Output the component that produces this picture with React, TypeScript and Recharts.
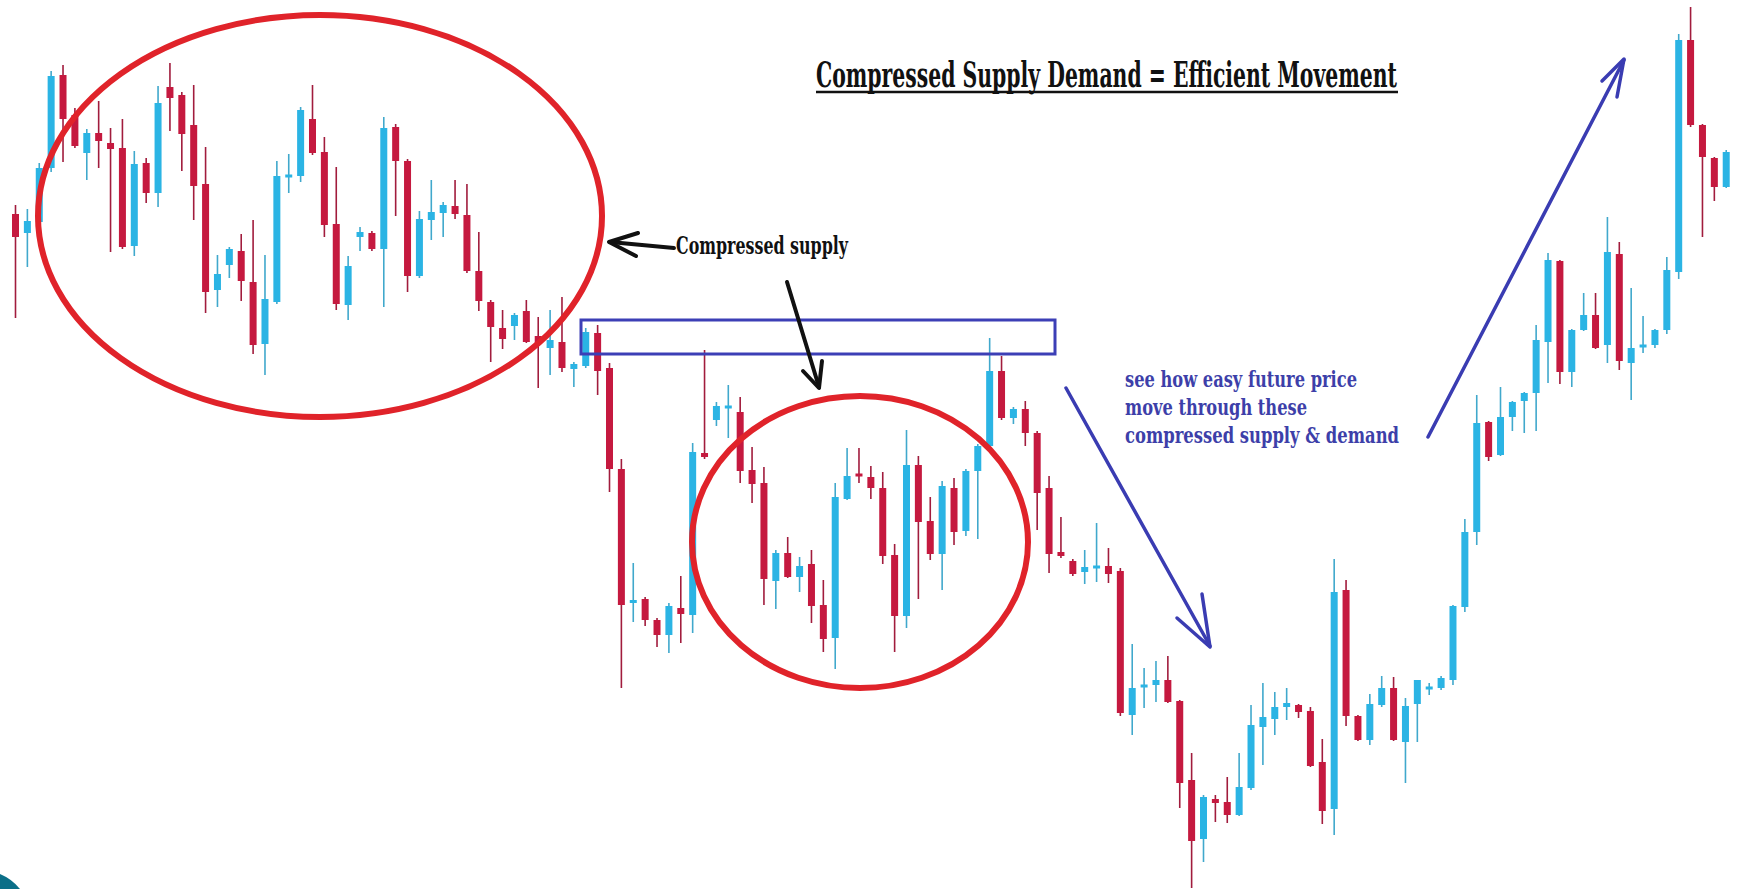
import React from 'react';
import { ComposedChart, Bar, XAxis, YAxis } from 'recharts';

// Price units (arbitrary points), one entry per candle
const openP = [
  675, 656, 667, 721, 814, 774, 736, 756, 746, 741, 643, 726, 696, 802, 794, 764, 705, 599, 624, 638,
  607, 545, 587, 712, 713, 770, 737, 665, 584, 652, 656, 640, 762, 728, 613, 669, 676, 683, 674, 618,
  587, 561, 563, 578, 553, 541, 547, 520, 523, 556, 521, 420, 286, 290, 269, 254, 281, 274, 436, 469,
  481, 477, 419, 406, 308, 336, 312, 325, 284, 251, 390, 415, 412, 401, 334, 273, 424, 368, 335, 401,
  358, 418, 443, 518, 471, 480, 456, 401, 337, 328, 317, 321, 323, 318, 174, 202, 204, 209, 188, 109,
  50, 90, 87, 74, 101, 162, 170, 182, 184, 178, 127, 80, 299, 173, 149, 184, 201, 147, 185, 200,
  201, 209, 282, 357, 467, 434, 472, 488, 496, 547, 628, 517, 559, 574, 544, 635, 526, 542, 544, 559,
  617, 849, 764, 731, 702,
];
const highP = [
  684, 680, 726, 818, 824, 781, 760, 788, 761, 770, 738, 731, 803, 826, 797, 804, 742, 634, 642, 655,
  669, 634, 728, 735, 782, 804, 752, 722, 633, 662, 658, 772, 765, 730, 678, 709, 687, 709, 705, 657,
  589, 579, 576, 589, 572, 579, 592, 527, 561, 564, 526, 430, 326, 292, 271, 286, 313, 446, 539, 487,
  504, 492, 442, 422, 339, 352, 332, 339, 309, 406, 441, 441, 423, 417, 345, 459, 433, 392, 408, 411,
  420, 445, 551, 533, 482, 488, 458, 413, 372, 330, 339, 366, 341, 321, 245, 221, 228, 233, 189, 136,
  94, 94, 112, 136, 184, 206, 197, 201, 185, 182, 150, 330, 309, 174, 195, 213, 212, 191, 209, 206,
  213, 284, 370, 494, 468, 502, 488, 497, 564, 636, 629, 560, 596, 596, 672, 647, 601, 573, 560, 632,
  855, 882, 765, 732, 739,
];
const lowP = [
  571, 622, 663, 717, 727, 741, 709, 721, 637, 640, 633, 686, 682, 758, 718, 669, 576, 582, 611, 588,
  535, 514, 585, 696, 707, 734, 652, 579, 569, 638, 638, 582, 673, 597, 611, 649, 652, 670, 616, 578,
  527, 540, 549, 546, 501, 514, 517, 502, 521, 494, 397, 201, 267, 263, 242, 236, 246, 256, 430, 463,
  451, 406, 386, 284, 280, 311, 297, 266, 237, 220, 389, 406, 390, 325, 237, 261, 290, 329, 299, 344,
  353, 350, 442, 469, 465, 443, 359, 316, 331, 313, 305, 307, 306, 173, 154, 181, 187, 186, 81, 1,
  27, 67, 66, 73, 99, 124, 154, 169, 171, 122, 65, 54, 163, 148, 144, 182, 148, 106, 147, 194,
  199, 204, 277, 344, 428, 433, 458, 456, 458, 506, 505, 502, 558, 540, 526, 519, 489, 536, 541, 555,
  610, 762, 652, 688, 701,
];
const closeP = [
  652, 668, 721, 813, 770, 743, 756, 748, 740, 642, 725, 696, 786, 791, 755, 703, 597, 615, 640, 608,
  544, 590, 713, 714, 779, 736, 664, 585, 623, 657, 640, 761, 728, 613, 670, 677, 684, 675, 618, 588,
  562, 550, 574, 547, 546, 549, 521, 525, 557, 518, 420, 284, 289, 269, 254, 283, 275, 437, 432, 483,
  483, 418, 405, 310, 336, 312, 323, 283, 250, 392, 413, 413, 401, 333, 273, 424, 367, 335, 403, 357,
  418, 443, 518, 471, 480, 456, 396, 335, 333, 315, 322, 323, 315, 176, 201, 204, 209, 187, 106, 48,
  92, 86, 74, 102, 164, 172, 182, 186, 177, 123, 78, 297, 173, 149, 185, 201, 149, 183, 209, 202,
  211, 283, 357, 466, 432, 472, 487, 496, 549, 629, 517, 559, 574, 541, 637, 528, 541, 544, 559, 619,
  849, 764, 732, 702, 737,
];

const titleText = 'Compressed Supply Demand = Efficient Movement';
const supplyLabel = 'Compressed supply';
const noteLines = ['see how easy future price', 'move through these', 'compressed supply & demand'];

const data = openP.map((o, i) => ({
  i,
  open: o,
  high: highP[i],
  low: lowP[i],
  close: closeP[i],
  range: [lowP[i], highP[i]],
}));

const UP = '#2bb4e4';
const DOWN = '#c5193f';
const UP_WICK = '#40a8cc';
const DOWN_WICK = '#a11c3d';

function Candle(props: any) {
  const { x, y, width, height, payload } = props;
  if (!payload || height == null) return null;
  const { open, close, high, low } = payload;
  const up = close >= open;
  const k = height / (high - low);
  const yOf = (v: number) => y + (high - v) * k;
  const cx = x + width / 2;
  const top = yOf(Math.max(open, close));
  const bot = yOf(Math.min(open, close));
  const h = Math.max(bot - top, 3);
  return (
    <g>
      <line x1={cx} x2={cx} y1={y} y2={y + height} stroke={up ? UP_WICK : DOWN_WICK} strokeWidth={1.6} />
      <rect x={x} y={top - (h - (bot - top)) / 2} width={width} height={h} fill={up ? UP : DOWN} />
    </g>
  );
}

const serif = "'DejaVu Serif Condensed', 'DejaVu Serif', 'Liberation Serif', serif";

export default function App() {
  return (
    <div style={{ position: 'absolute', left: 0, top: 0, width: 1741, height: 889, background: '#ffffff', overflow: 'hidden' }}>
      <ComposedChart
        width={1741}
        height={889}
        data={data}
        margin={{ top: 0, right: 8.4, bottom: 0, left: 10 }}
        barCategoryGap={0}
      >
        <XAxis dataKey="i" type="category" hide />
        <YAxis type="number" domain={[0, 889]} hide allowDataOverflow />
        <Bar dataKey="range" barSize={7} shape={(p: any) => <Candle {...p} />} isAnimationActive={false} />
      </ComposedChart>
      <svg width={1741} height={889} style={{ position: 'absolute', left: 0, top: 0, pointerEvents: 'none' }}>
        {/* red ellipses */}
        <ellipse cx={320} cy={216} rx={282} ry={201} fill="none" stroke="#e0232a" strokeWidth={6} />
        <ellipse cx={860} cy={542} rx={168} ry={146} fill="none" stroke="#e0232a" strokeWidth={6} />
        {/* blue box */}
        <rect x={581} y={320} width={474} height={34} fill="none" stroke="#3c3fb6" strokeWidth={3} />
        {/* title */}
        <text x={816} y={87} fontFamily={serif} fontWeight="bold" fontSize={36} fill="#111" textLength={581} lengthAdjust="spacingAndGlyphs">
          {titleText}
        </text>
        <line x1={816} x2={1398} y1={92} y2={92} stroke="#111" strokeWidth={2.5} />
        {/* compressed supply label + arrows */}
        <text x={676} y={254} fontFamily={serif} fontWeight="bold" fontSize={24} fill="#111" textLength={172} lengthAdjust="spacingAndGlyphs">
          {supplyLabel}
        </text>
        <g stroke="#111" strokeWidth={4} fill="none" strokeLinecap="round" strokeLinejoin="round">
          <line x1={674} y1={248} x2={610} y2={242} />
          <polyline points="638,233 609,242 636,256" />
          <line x1={787} y1={282} x2={819} y2={387} />
          <polyline points="803,371 819,388 822,361" />
        </g>
        {/* blue note */}
        <g fontFamily={serif} fontWeight="bold" fontSize={23} fill="#3d3fa9">
          <text x={1125} y={387} textLength={232} lengthAdjust="spacingAndGlyphs">{noteLines[0]}</text>
          <text x={1125} y={415} textLength={182} lengthAdjust="spacingAndGlyphs">{noteLines[1]}</text>
          <text x={1125} y={443} textLength={274} lengthAdjust="spacingAndGlyphs">{noteLines[2]}</text>
        </g>
        <g stroke="#3a3cb2" strokeWidth={3.5} fill="none" strokeLinecap="round" strokeLinejoin="round">
          <line x1={1066} y1={388} x2={1210} y2={646} />
          <polyline points="1177,618 1210,647 1202,594" />
          <line x1={1428} y1={437} x2={1624} y2={60} />
          <polyline points="1602,81 1624,59 1617,97" />
        </g>
        {/* corner shape */}
        <path d="M0,874 Q12,879 20,889 L0,889 Z" fill="#0b6f88" />
      </svg>
    </div>
  );
}
